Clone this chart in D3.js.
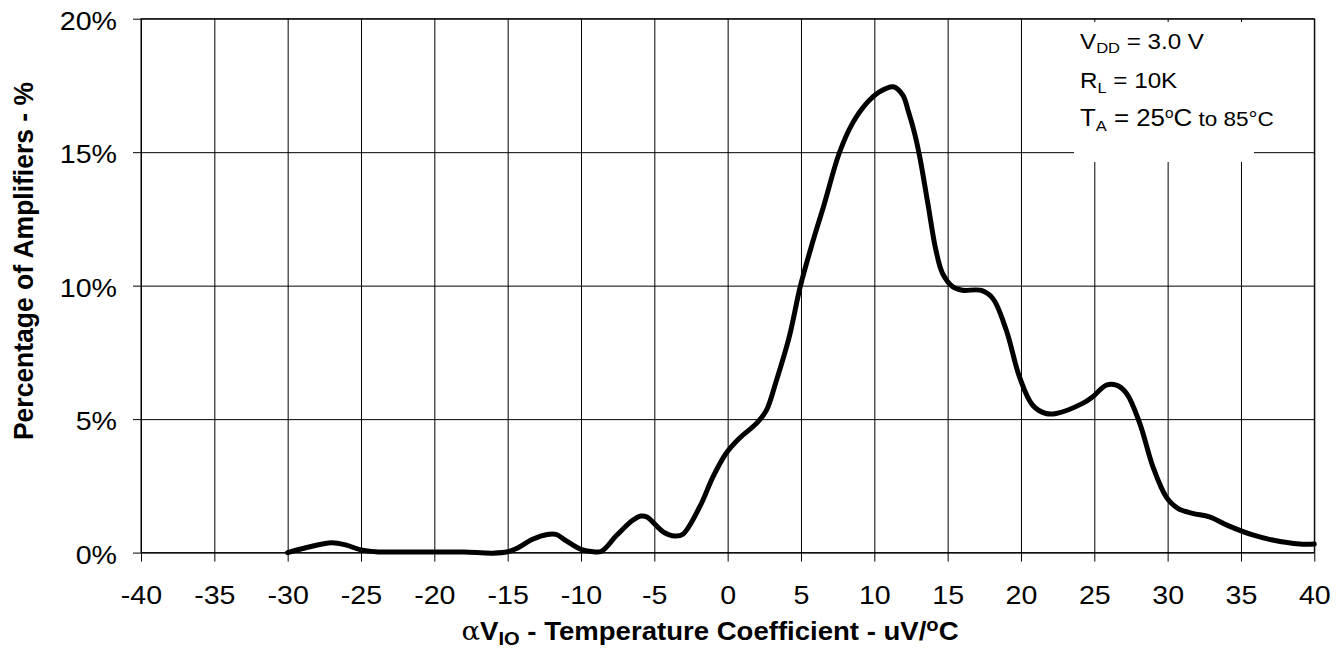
<!DOCTYPE html>
<html>
<head>
<meta charset="utf-8">
<script src="https://cdn.jsdelivr.net/npm/d3@7"></script>
<style>
  html, body { margin: 0; padding: 0; background: #fff; }
  svg { display: block; }
  text { font-family: "Liberation Sans", Arial, sans-serif; fill: #000; }
</style>
</head>
<body>
<svg id="chart" width="1341" height="654"></svg>
<script>
// ---- data ----
const coefC = [-30, -28.7, -27.0, -26.0, -25.0, -24.0, -22.0, -20.0, -18.0, -16.0, -15.0, -14.4, -13.3, -12.3, -11.7, -11.0, -10.0, -9.3, -8.6, -7.6, -6.45, -5.9, -5.5, -4.4, -3.6, -3.05, -1.9, -1.0, -0.1, 0.8, 2.0, 2.65, 3.3, 4.2, 4.95, 5.7, 6.6, 7.6, 8.5, 9.45, 10.35, 11.3, 11.95, 12.3, 12.75, 13.1, 13.65, 14.2, 14.65, 15.35, 16.0, 17.3, 18.08, 19.0, 19.9, 20.8, 21.7, 22.4, 24.2, 24.9, 25.8, 26.5, 27.2, 28.1, 29.0, 29.9, 30.7, 31.7, 32.85, 34.2, 35.8, 37.15, 39.0, 40.0];
const pctAmps = [0, 0.19, 0.37, 0.28, 0.1, 0.03, 0.02, 0.02, 0.02, -0.02, 0.03, 0.15, 0.5, 0.68, 0.68, 0.44, 0.12, 0.04, 0.05, 0.63, 1.22, 1.37, 1.33, 0.78, 0.62, 0.69, 1.72, 2.84, 3.72, 4.28, 4.86, 5.34, 6.4, 8.08, 9.96, 11.45, 13.08, 14.95, 16.07, 16.82, 17.26, 17.45, 17.13, 16.57, 15.7, 14.82, 13.08, 11.33, 10.46, 9.96, 9.83, 9.82, 9.52, 8.33, 6.58, 5.52, 5.21, 5.21, 5.59, 5.84, 6.27, 6.27, 5.96, 4.84, 3.21, 2.09, 1.66, 1.47, 1.34, 0.99, 0.66, 0.47, 0.32, 0.32];
const xTickValues = [-40, -35, -30, -25, -20, -15, -10, -5, 0, 5, 10, 15, 20, 25, 30, 35, 40];
const xTickLabels = ["-40", "-35", "-30", "-25", "-20", "-15", "-10", "-5", "0", "5", "10", "15", "20", "25", "30", "35", "40"];
const yTickValues = [0, 5, 10, 15, 20];
const yTickLabels = ["0%", "5%", "10%", "15%", "20%"];

// ---- layout ----
const svg = d3.select("#chart");
const pLeft = 141, pRight = 1314.3, pTop = 18.7, pBottom = 552.6;
const x = d3.scaleLinear().domain([-40, 40]).range([pLeft, pRight]);
const y = d3.scaleLinear().domain([0, 20]).range([pBottom, pTop]);
const SX = 1.1; // horizontal stretch of the reference text
const FONT = '"Liberation Sans", Arial, sans-serif';

// gridlines
svg.append("g")
  .attr("transform", `translate(0,${pBottom})`)
  .call(d3.axisBottom(x).tickValues(xTickValues).tickSize(-(pBottom - pTop)).tickFormat(""))
  .call(g => g.select(".domain").remove())
  .call(g => g.selectAll("line").attr("stroke", "#000").attr("stroke-width", 1));
svg.append("g")
  .attr("transform", `translate(${pLeft},0)`)
  .call(d3.axisLeft(y).tickValues(yTickValues).tickSize(-(pRight - pLeft)).tickFormat(""))
  .call(g => g.select(".domain").remove())
  .call(g => g.selectAll("line").attr("stroke", "#000").attr("stroke-width", 1));

// border
svg.append("rect")
  .attr("x", pLeft).attr("y", pTop)
  .attr("width", pRight - pLeft).attr("height", pBottom - pTop)
  .attr("fill", "none").attr("stroke", "#000").attr("stroke-width", 1);

// x axis ticks + labels
svg.append("g")
  .attr("transform", `translate(0,${pBottom})`)
  .call(d3.axisBottom(x).tickValues(xTickValues).tickSize(9).tickFormat((d, i) => xTickLabels[i]))
  .call(g => g.select(".domain").remove())
  .call(g => g.selectAll("line").attr("stroke", "#000"))
  .call(g => g.selectAll("text")
    .attr("y", null).attr("dy", null)
    .attr("transform", `translate(0,${604 - pBottom}) scale(${SX},1)`)
    .attr("font-size", 26).attr("text-anchor", "middle")
    .style("font-family", FONT).attr("fill", "#000"));

// y axis ticks + labels
svg.append("g")
  .attr("transform", `translate(${pLeft},0)`)
  .call(d3.axisLeft(y).tickValues(yTickValues).tickSize(8).tickFormat((d, i) => yTickLabels[i]))
  .call(g => g.select(".domain").remove())
  .call(g => g.selectAll("line").attr("stroke", "#000"))
  .call(g => g.selectAll("text")
    .attr("x", null).attr("dy", null)
    .attr("transform", `translate(-24,10.5) scale(${SX},1)`)
    .attr("font-size", 26).attr("text-anchor", "end")
    .style("font-family", FONT).attr("fill", "#000"));

// annotation box (white background)
svg.append("rect")
  .attr("x", 1074).attr("y", 22)
  .attr("width", 180).attr("height", 140)
  .attr("fill", "#fff");

const ann = svg.append("g");
const l1 = ann.append("text").attr("transform", `translate(1080,49.3) scale(${SX},1)`).attr("font-size", 22);
l1.append("tspan").text("V");
l1.append("tspan").attr("font-size", 15).attr("dy", 4).text("DD");
l1.append("tspan").attr("dy", -4).text(" = 3.0 V");

const l2 = ann.append("text").attr("transform", `translate(1080,88.3) scale(${SX},1)`).attr("font-size", 22);
l2.append("tspan").text("R");
l2.append("tspan").attr("font-size", 15).attr("dy", 5).text("L");
l2.append("tspan").attr("dy", -5).text(" = 10K");

const l3 = ann.append("text").attr("transform", `translate(1080,126) scale(${SX},1)`).attr("font-size", 23.5);
l3.append("tspan").text("T");
l3.append("tspan").attr("font-size", 15).attr("dy", 5).text("A");
l3.append("tspan").attr("dy", -5).text(" = 25");
l3.append("tspan").attr("font-size", 14).attr("dy", -8).text("o");
l3.append("tspan").attr("dy", 8).text("C");
l3.append("tspan").attr("font-size", 20.5).text(" to 85°C");

// curve
const pts = coefC.map((c, i) => [c, pctAmps[i]]);
const line = d3.line().x(d => x(d[0])).y(d => y(d[1])).curve(d3.curveCatmullRom.alpha(0.5));
svg.append("path")
  .datum(pts)
  .attr("d", line)
  .attr("fill", "none")
  .attr("stroke", "#000")
  .attr("stroke-width", 5)
  .attr("stroke-linejoin", "round")
  .attr("stroke-linecap", "round");

// x axis title
const xt = svg.append("text")
  .attr("transform", `translate(710,640) scale(1.06,1)`)
  .attr("text-anchor", "middle")
  .attr("font-size", 26).attr("font-weight", "bold");
xt.append("tspan").attr("font-weight", "normal").style("font-family", '"DejaVu Serif", serif').text("α");
xt.append("tspan").text("V");
xt.append("tspan").attr("font-size", 19).attr("dy", 5).text("IO");
xt.append("tspan").attr("dy", -5).text(" - Temperature Coefficient - uV/");
xt.append("tspan").attr("font-size", 19).attr("dy", -9).text("o");
xt.append("tspan").attr("dy", 9).text("C");

// y axis title
svg.append("text")
  .attr("transform", `translate(33,261) rotate(-90) scale(1,1.04)`)
  .attr("text-anchor", "middle")
  .attr("font-size", 26.5).attr("font-weight", "bold")
  .text("Percentage of Amplifiers - %");
</script>
</body>
</html>
